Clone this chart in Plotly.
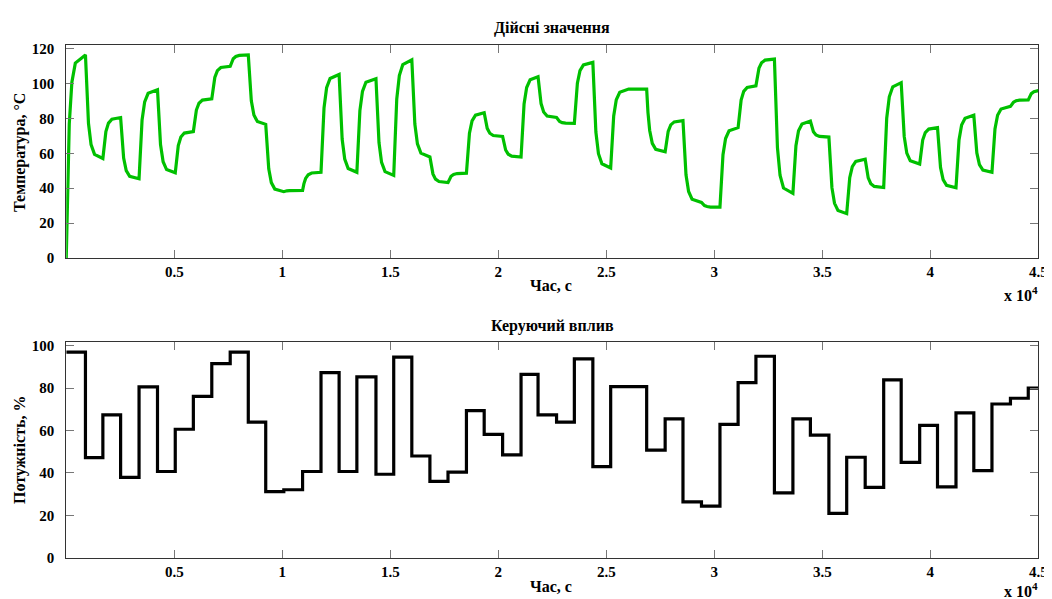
import plotly.graph_objects as go

# ---------------- data ----------------
# start time (s) of every control segment
switch_times = [0, 889, 1695, 2517, 3370, 4224, 5046, 5884, 6737, 7590,
                8427, 9234, 10071, 10940, 11793, 12631, 13453, 14337, 15159, 15997,
                16834, 17672, 18525, 19347, 20200, 21053, 21840, 22697, 23521, 24377,
                25202, 26035, 26868, 27724, 28549, 29405, 30261, 31101, 31926, 32782,
                33638, 34447, 35304, 36128, 36984, 37840, 38650, 39506, 40331, 41187,
                42012, 42852, 43708, 44533]
t_end = 45000

# control power (%) in every segment
power = [96.9, 47.2, 67.4, 37.9, 80.6, 40.7, 60.6, 76.1, 91.5, 96.9,
         64.0, 31.2, 32.1, 40.7, 87.3, 40.7, 85.3, 39.4, 94.6, 48.0,
         36.0, 40.4, 69.4, 58.2, 48.5, 86.5, 67.4, 64.0, 93.8, 43.0,
         80.7, 80.7, 50.8, 65.5, 26.4, 24.4, 62.9, 82.6, 95.0, 30.6,
         65.5, 57.8, 21.0, 47.4, 33.2, 83.9, 45.0, 62.4, 33.4, 68.3,
         41.1, 72.5, 75.2, 80.0]

# time offsets (s) after each switch at which the temperature was read
sample_offsets = [0, 60, 140, 260, 420]

# temperature (°C) read at those offsets, one row per segment
temp_samples = [
    [0.0, 43.1, 76.8, 100.7, 111.7],
    [116.4, 94.4, 77.2, 65.0, 59.4],
    [57.0, 65.7, 72.5, 77.3, 79.6],
    [80.5, 67.5, 57.3, 50.1, 46.8],
    [45.4, 64.3, 79.1, 89.5, 94.4],
    [96.4, 78.8, 65.0, 55.2, 50.7],
    [48.8, 57.6, 64.4, 69.3, 71.6],
    [72.5, 79.4, 84.8, 88.7, 90.5],
    [91.2, 98.1, 103.5, 107.4, 109.2],
    [109.9, 112.3, 114.2, 115.5, 116.1],
    [116.4, 101.7, 90.1, 82.0, 78.2],
    [76.6, 62.3, 51.1, 43.2, 39.5],
    [38.0, 38.3, 38.5, 38.6, 38.7],
    [38.7, 42.5, 45.6, 47.7, 48.7],
    [49.1, 69.9, 86.1, 97.6, 102.9],
    [105.2, 84.4, 68.2, 56.7, 51.3],
    [49.1, 69.0, 84.5, 95.5, 100.7],
    [102.8, 82.3, 66.2, 54.8, 49.5],
    [47.3, 71.8, 91.1, 104.6, 110.9],
    [113.6, 93.0, 76.8, 65.4, 60.1],
    [57.9, 52.5, 48.2, 45.2, 43.8],
    [43.2, 45.2, 46.8, 47.9, 48.4],
    [48.6, 61.4, 71.5, 78.6, 81.9],
    [83.3, 78.3, 74.3, 71.5, 70.2],
    [69.7, 65.3, 61.9, 59.5, 58.4],
    [57.9, 74.9, 88.3, 97.7, 102.1],
    [103.9, 95.2, 88.5, 83.7, 81.4],
    [80.5, 79.3, 78.3, 77.6, 77.3],
    [77.2, 90.1, 100.2, 107.4, 110.7],
    [112.1, 89.7, 72.2, 59.8, 54.0],
    [51.6, 68.3, 81.4, 90.7, 95.0],
    [96.8, 96.8, 96.8, 96.8, 96.8],
    [96.8, 83.5, 73.1, 65.7, 62.3],
    [60.9, 67.5, 72.6, 76.3, 78.0],
    [78.7, 61.4, 47.7, 38.1, 33.7],
    [31.8, 30.8, 30.0, 29.5, 29.2],
    [29.1, 46.0, 59.2, 68.5, 72.9],
    [74.7, 83.6, 90.5, 95.5, 97.7],
    [98.7, 104.4, 108.8, 111.9, 113.4],
    [114.0, 85.5, 63.2, 47.4, 40.1],
    [37.0, 52.4, 64.4, 72.9, 76.8],
    [78.5, 75.1, 72.4, 70.5, 69.7],
    [69.3, 53.1, 40.3, 31.3, 27.2],
    [25.4, 36.9, 46.0, 52.4, 55.4],
    [56.6, 50.6, 45.9, 42.6, 41.0],
    [40.4, 62.6, 80.1, 92.4, 98.1],
    [100.5, 83.2, 69.7, 60.1, 55.7],
    [53.8, 61.5, 67.6, 71.9, 73.9],
    [74.7, 61.9, 51.9, 44.9, 41.6],
    [40.2, 55.6, 67.7, 76.2, 80.1],
    [81.8, 69.7, 60.2, 53.5, 50.4],
    [49.1, 63.1, 74.0, 81.8, 85.4],
    [86.9, 88.3, 89.3, 90.1, 90.5],
    [90.6, 92.6, 94.2, 95.3, 95.8],
]
temp_final = 95.9

x_tick_vals = [5000, 10000, 15000, 20000, 25000, 30000, 35000, 40000, 45000]
x_tick_text = ["0.5", "1", "1.5", "2", "2.5", "3", "3.5", "4", "4.5"]
temp_ticks = [0, 20, 40, 60, 80, 100, 120]
power_ticks = [0, 20, 40, 60, 80, 100]

title_top = "Дійсні значення"
title_bottom = "Керуючий вплив"
x_label = "Час, с"
y_label_top = "Температура, °C"
y_label_bottom = "Потужність, %"

# ---------------- build the series ----------------
temp_t, temp_v = [], []
for st, row in zip(switch_times, temp_samples):
    for off, val in zip(sample_offsets, row):
        temp_t.append(st + off)
        temp_v.append(val)
temp_t.append(t_end)
temp_v.append(temp_final)

pow_t = switch_times + [t_end]
pow_v = power + [power[-1]]

# ---------------- figure ----------------
W, H = 1052, 599
FONT = "Liberation Serif, Times New Roman, serif"
x_dom = [58.75 / W, 1039.25 / W]
y_dom_top = [1 - 251 / H, 1 - 34 / H]
y_dom_bot = [1 - 557 / H, 1 - 337 / H]

fig = go.Figure()
fig.add_trace(go.Scatter(x=temp_t, y=temp_v, mode="lines",
                         line=dict(color="#00c000", width=3.2),
                         xaxis="x", yaxis="y", showlegend=False, hoverinfo="skip"))
fig.add_trace(go.Scatter(x=pow_t, y=pow_v, mode="lines", line_shape="hv",
                         line=dict(color="#000000", width=3.2),
                         xaxis="x2", yaxis="y2", showlegend=False, hoverinfo="skip"))

tickfont = dict(family=FONT, size=15, color="#000000", weight="bold")
common_x = dict(range=[0, t_end], tickmode="array", tickvals=x_tick_vals,
                ticktext=x_tick_text, ticks="inside", ticklen=8, tickcolor="#777777",
                tickwidth=1, showline=True, linecolor="#333333", linewidth=1,
                mirror="ticks", showgrid=False, zeroline=False, tickfont=tickfont)
common_y = dict(ticks="inside", ticklen=8, tickcolor="#777777", tickwidth=1,
                showline=True, linecolor="#333333", linewidth=1, mirror="ticks",
                showgrid=False, zeroline=False, tickfont=tickfont,
                tickmode="array", ticklabelstandoff=8)

fig.update_layout(
    width=W, height=H,
    margin=dict(l=0, r=0, t=0, b=0),
    paper_bgcolor="white", plot_bgcolor="white",
    xaxis=dict(domain=x_dom, anchor="y", **common_x),
    yaxis=dict(domain=y_dom_top, anchor="x", range=[0, 121.9],
               tickvals=temp_ticks, **common_y),
    xaxis2=dict(domain=x_dom, anchor="y2", **common_x),
    yaxis2=dict(domain=y_dom_bot, anchor="x2", range=[0, 101.6],
                tickvals=power_ticks, **common_y),
)

labfont = dict(family=FONT, size=16, color="#000000", weight="bold")
xc = (x_dom[0] + x_dom[1]) / 2
xl = 548 / W
ann = [
    dict(text=title_top, x=xc, y=1 - 16 / H),
    dict(text=title_bottom, x=xc, y=1 - 320 / H),
    dict(text=x_label, x=xl, y=1 - 279 / H),
    dict(text=x_label, x=xl, y=1 - 586 / H),
]
for a in ann:
    fig.add_annotation(xref="paper", yref="paper", showarrow=False,
                       xanchor="center", yanchor="middle", font=labfont, **a)
for yy in (288, 590):
    fig.add_annotation(text="x 10<sup>4</sup>", xref="paper", yref="paper",
                       x=1041 / W, y=1 - yy / H, xanchor="right", yanchor="middle",
                       showarrow=False, font=labfont)
for txt, yy in ((y_label_top, 143), (y_label_bottom, 447)):
    fig.add_annotation(text=txt, xref="paper", yref="paper", x=12 / W, y=1 - yy / H,
                       xanchor="center", yanchor="middle", textangle=-90,
                       showarrow=False, font=labfont)

fig.write_html("out.html")
